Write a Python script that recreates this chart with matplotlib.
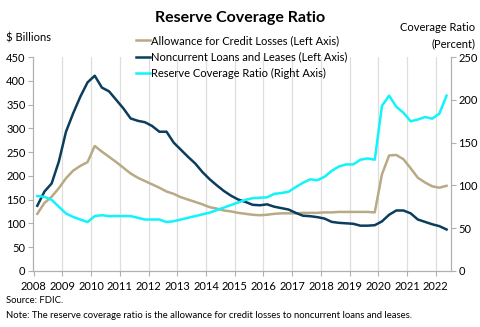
import numpy as np
import matplotlib
matplotlib.use("Agg")
import matplotlib.pyplot as plt

plt.rcParams['font.family'] = ['Lato', 'DejaVu Sans']

# quarterly, 2008Q1 .. 2022Q2
noncurrent = [137, 167, 184, 230, 293, 332, 367, 397, 411, 386,
              378, 360, 342, 321, 316, 313, 305, 293, 293, 270,
              255, 240, 226, 208, 193, 180, 168, 158, 150, 145,
              139, 138, 140, 135, 132, 129, 122, 116, 115, 113,
              110, 103, 101, 100, 99, 95, 95, 96, 104, 118,
              127, 127, 121, 108, 103, 98, 94, 87]
allowance = [120, 143, 156, 174, 195, 211, 221, 229, 263, 251,
             240, 229, 217, 205, 196, 189, 182, 175, 167, 162,
             155, 150, 145, 140, 134, 131, 127, 125, 122, 120,
             118, 117, 118, 120, 121, 121, 121, 122, 122, 122,
             123, 123, 124, 124, 124, 124, 124, 123, 203, 243,
             244, 235, 216, 196, 186, 178, 175, 179]
coverage = [87.5, 86.5, 83, 75, 67, 63, 60, 57, 64, 65,
            64, 64, 64, 64, 62, 60, 60, 60, 57, 58,
            60, 62, 64, 66, 68, 71, 74, 77, 80, 83,
            85, 85.5, 86, 90, 91, 92.5, 98, 103, 107, 106,
            110, 117, 122, 124.5, 124.5, 130, 131.5, 130, 193, 205,
            192, 185, 175, 177, 180, 178, 184, 205]
years = list(range(2008, 2023))

t = 2008.125 + 0.25 * np.arange(len(noncurrent))

tan = '#B7AA84'
navy = '#0B3D5C'
cyan = '#10F4FA'
grey = '#B0B0B0'

fig = plt.figure(figsize=(4.8, 3.27), dpi=100)
ax = fig.add_axes([0.069, 0.172, 0.870, 0.653])
ax2 = ax.twinx()

l1, = ax.plot(t, allowance, color=tan, lw=1.8, label='Allowance for Credit Losses (Left Axis)')
l2, = ax.plot(t, noncurrent, color=navy, lw=1.8, label='Noncurrent Loans and Leases (Left Axis)')
l3, = ax2.plot(t, coverage, color=cyan, lw=1.8, label='Reserve Coverage Ratio (Right Axis)')

ax.set_xlim(2007.98, 2022.52)
ax.set_ylim(0, 450)
ax2.set_ylim(0, 250)
ax.set_yticks(range(0, 451, 50))
ax2.set_yticks(range(0, 251, 50))
ax.set_xticks(years)
ax.set_xticklabels([str(y) for y in years])

for y in years[1:]:
    ax.axvline(y, color='#DEDEDE', lw=0.9, zorder=0)

for a in (ax, ax2):
    for s in a.spines.values():
        s.set_color(grey)
        s.set_linewidth(0.8)
    a.spines['top'].set_visible(False)
    a.tick_params(labelsize=8, color=grey, length=3.5, width=0.8, pad=2)
ax.tick_params(axis='x', pad=4)

fig.text(0.5, 0.945, 'Reserve Coverage Ratio', ha='center', va='center',
         fontsize=11.5, fontweight='bold')
fig.text(0.012, 0.885, '$ Billions', ha='left', va='center', fontsize=8)
fig.text(0.99, 0.915, 'Coverage Ratio', ha='right', va='center', fontsize=8)
fig.text(0.99, 0.865, '(Percent)', ha='right', va='center', fontsize=8)

fig.legend(handles=[l1, l2, l3], loc='upper left', bbox_to_anchor=(0.283, 0.893),
           frameon=False, fontsize=8, handlelength=1.3, handletextpad=0.1,
           labelspacing=0.5, borderaxespad=0, borderpad=0)

fig.text(0.012, 0.082, 'Source: FDIC.', ha='left', va='center', fontsize=6.8)
fig.text(0.012, 0.035, 'Note: The reserve coverage ratio is the allowance for credit losses '
         'to noncurrent loans and leases.', ha='left', va='center', fontsize=6.8)

fig.savefig('out.png', dpi=100)
